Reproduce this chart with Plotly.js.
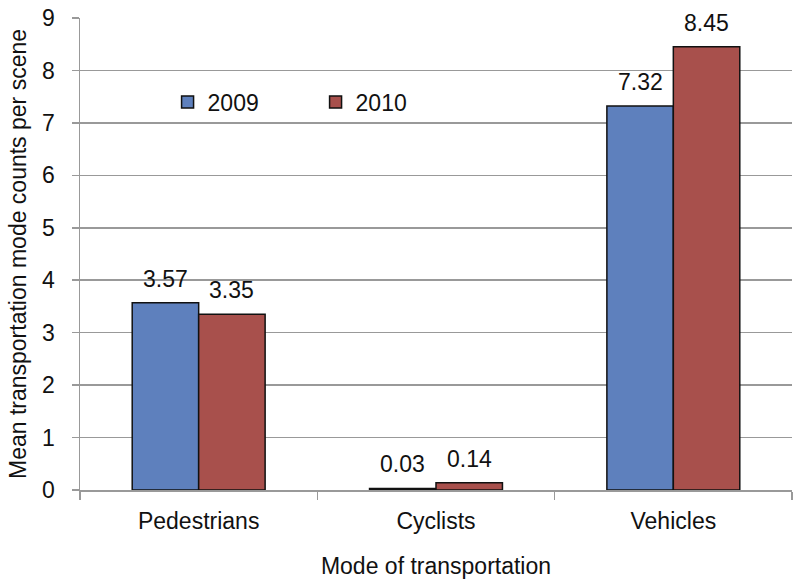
<!DOCTYPE html>
<html>
<head>
<meta charset="utf-8">
<script src="https://cdn.plot.ly/plotly-3.0.1.min.js"></script>
<style>html,body{margin:0;padding:0;background:#fff}#chart{width:800px;height:587px}</style>
</head>
<body>
<div id="chart"></div>
<script>
const categories = ["Pedestrians", "Cyclists", "Vehicles"];
const values2009 = [3.57, 0.03, 7.32];
const values2010 = [3.35, 0.14, 8.45];
const seriesNames = ["2009", "2010"];
const yTicks = [0, 1, 2, 3, 4, 5, 6, 7, 8, 9];

const fnt = {family: "Liberation Sans, Arial, sans-serif", size: 23, color: "#111"};
const mk = (vals, name, color) => ({
  type: "bar", x: categories, y: vals, name: name,
  marker: {color: color, line: {color: "#111", width: 1.5}},
  hoverinfo: "skip"
});
const data = [
  mk(values2009, seriesNames[0], "#5E80BD"),
  mk(values2010, seriesNames[1], "#A8504C")
];

const barHalf = 33.3;
const annotations = [];
[values2009, values2010].forEach((vals, si) => {
  vals.forEach((v, i) => {
    annotations.push({
      x: categories[i], y: v, xref: "x", yref: "y",
      text: v.toFixed(2), showarrow: false,
      xanchor: "center", yanchor: "bottom",
      xshift: si === 0 ? -barHalf : barHalf, yshift: 9,
      font: fnt
    });
  });
});

const layout = {
  width: 800, height: 587,
  margin: {l: 80, r: 8, t: 18, b: 97},
  paper_bgcolor: "#fff", plot_bgcolor: "#fff",
  font: fnt,
  barmode: "group", bargap: 0.44, bargroupgap: 0,
  showlegend: true,
  legend: {orientation: "h", x: 0.123, y: 0.822, xanchor: "left", yanchor: "middle",
           entrywidth: 103, entrywidthmode: "pixels", font: fnt, bgcolor: "rgba(0,0,0,0)",
           itemwidth: 30},
  annotations: annotations,
  xaxis: {
    title: {text: "Mode of transportation", font: fnt, standoff: 25},
    showline: true, linecolor: "#999", linewidth: 1.5,
    ticks: "outside", tickson: "boundaries", ticklen: 8, tickcolor: "#999", tickwidth: 1.5,
    ticklabelstandoff: 10,
    tickfont: fnt, showgrid: false, zeroline: false
  },
  yaxis: {
    title: {text: "Mean transportation mode counts per scene", font: fnt, standoff: 9},
    range: [0, 9], tickvals: yTicks, ticktext: yTicks.map(String),
    showline: true, linecolor: "#999", linewidth: 1.5,
    ticks: "outside", ticklen: 7, tickcolor: "#999", tickwidth: 1.5,
    ticklabelstandoff: 12,
    showgrid: true, gridcolor: "#999", gridwidth: 1.5, zeroline: false,
    tickfont: fnt, fixedrange: true
  }
};
Plotly.newPlot("chart", data, layout, {displayModeBar: false, staticPlot: true});
</script>
</body>
</html>
